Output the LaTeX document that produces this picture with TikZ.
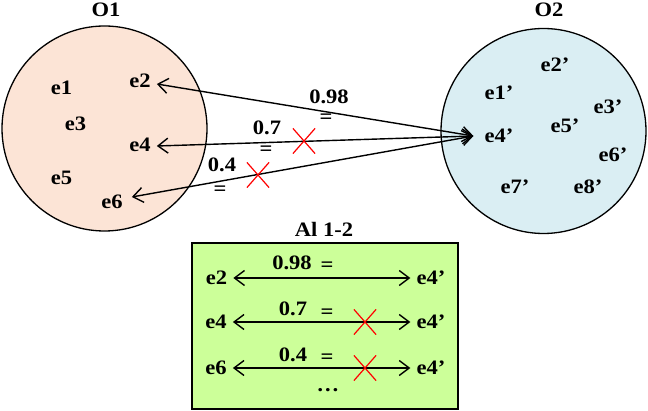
\documentclass[tikz,border=0pt]{standalone}
\usepackage{fontspec}
\setmainfont{Liberation Serif}[FakeStretch=1.1]
\usetikzlibrary{arrows.meta,shapes.misc}
\definecolor{peach}{HTML}{FCE4D6}
\definecolor{lblue}{HTML}{DAEEF3}
\definecolor{lgreen}{HTML}{CCFF99}
\begin{document}
\begin{tikzpicture}[x=1pt,y=-1pt,
  lbl/.style={font=\fontsize{20.5}{24}\selectfont\bfseries, inner sep=3pt},
  arr/.style={line width=1.4pt, {Straight Barb[length=10pt,width=15pt,line width=1.4pt]}-{Straight Barb[length=10pt,width=15pt,line width=1.4pt]}},
  xmark/.style={cross out, draw=red, line width=1.2pt, minimum width=21pt, minimum height=24pt, inner sep=0pt},
  set/.style={circle, draw, line width=1.3pt, minimum size=205pt, inner sep=0pt}]
\useasboundingbox (0,0) rectangle (648,411);
% sets
\node[set, fill=peach] (S1) at (104.5,128.5) {};
\node[set, fill=lblue] (S2) at (543.5,131) {};
\node[lbl] (O1) at (106,10) {O1};
\node[lbl] (O2) at (549,10) {O2};
% O1 elements
\node[lbl] (e1) at (61.5,88) {e1};
\node[lbl] (e2) at (140,81) {e2};
\node[lbl] (e3) at (75.5,124) {e3};
\node[lbl] (e4) at (140,145) {e4};
\node[lbl] (e5) at (61.5,178) {e5};
\node[lbl] (e6) at (112,202) {e6};
% O2 elements
\node[lbl] (f2) at (555,65) {e2’};
\node[lbl] (f1) at (499,93) {e1’};
\node[lbl] (f3) at (608,107) {e3’};
\node[lbl] (f4) at (499,136) {e4’};
\node[lbl] (f5) at (565,126) {e5’};
\node[lbl] (f6) at (613,155) {e6’};
\node[lbl] (f7) at (515,187) {e7’};
\node[lbl] (f8) at (588,187) {e8’};
% connectors
\coordinate (hub) at ([xshift=-8pt]f4.west);
\draw[arr] (hub) -- ([xshift=3pt,yshift=-3pt]e2.east);
\draw[arr] (hub) -- ([xshift=3pt,yshift=-1pt]e4.east);
\draw[arr] (hub) -- ([xshift=6pt,yshift=5pt]e6.east);
% labels on connectors
\node[lbl] (w1) at (329,97) {0.98};
\node[lbl] (q1) at (326,119) {=};
\node[lbl] (w2) at (267,128) {0.7};
\node[lbl] (q2) at (266,151) {=};
\node[xmark] (x2) at (304,141) {};
\node[lbl] (w3) at (222,165) {0.4};
\node[lbl] (q3) at (220,191) {=};
\node[xmark] (x3) at (258,175) {};
% alignment box
\node[lbl] (al) at (324,229) {Al 1-2};
\node[draw, line width=2pt, fill=lgreen, minimum width=266pt, minimum height=166pt, inner sep=0pt] (box) at (324.5,326) {};
\node[lbl] (a1) at (216.5,278) {e2};
\node[lbl] (b1) at (431,278) {e4’};
\draw[arr] ([xshift=-3pt]b1.west) -- ([xshift=3pt]a1.east);
\node[lbl] (r1) at (292,263) {0.98};
\node[lbl] (s1) at (327,267) {=};
\node[lbl] (a2) at (216,322) {e4};
\node[lbl] (b2) at (431,322) {e4’};
\draw[arr] ([xshift=-3pt]b2.west) -- ([xshift=3pt]a2.east);
\node[lbl] (r2) at (293,309) {0.7};
\node[lbl] (s2) at (327,314) {=};
\node[xmark] (y2) at (365,322) {};
\node[lbl] (a3) at (216,368) {e6};
\node[lbl] (b3) at (431,368) {e4’};
\draw[arr] ([xshift=-3pt]b3.west) -- ([xshift=3pt]a3.east);
\node[lbl] (r3) at (293,355) {0.4};
\node[lbl] (s3) at (327,359) {=};
\node[xmark] (y3) at (365,368) {};
\node[lbl] (dots) at (328,390) {…};
\end{tikzpicture}
\end{document}
